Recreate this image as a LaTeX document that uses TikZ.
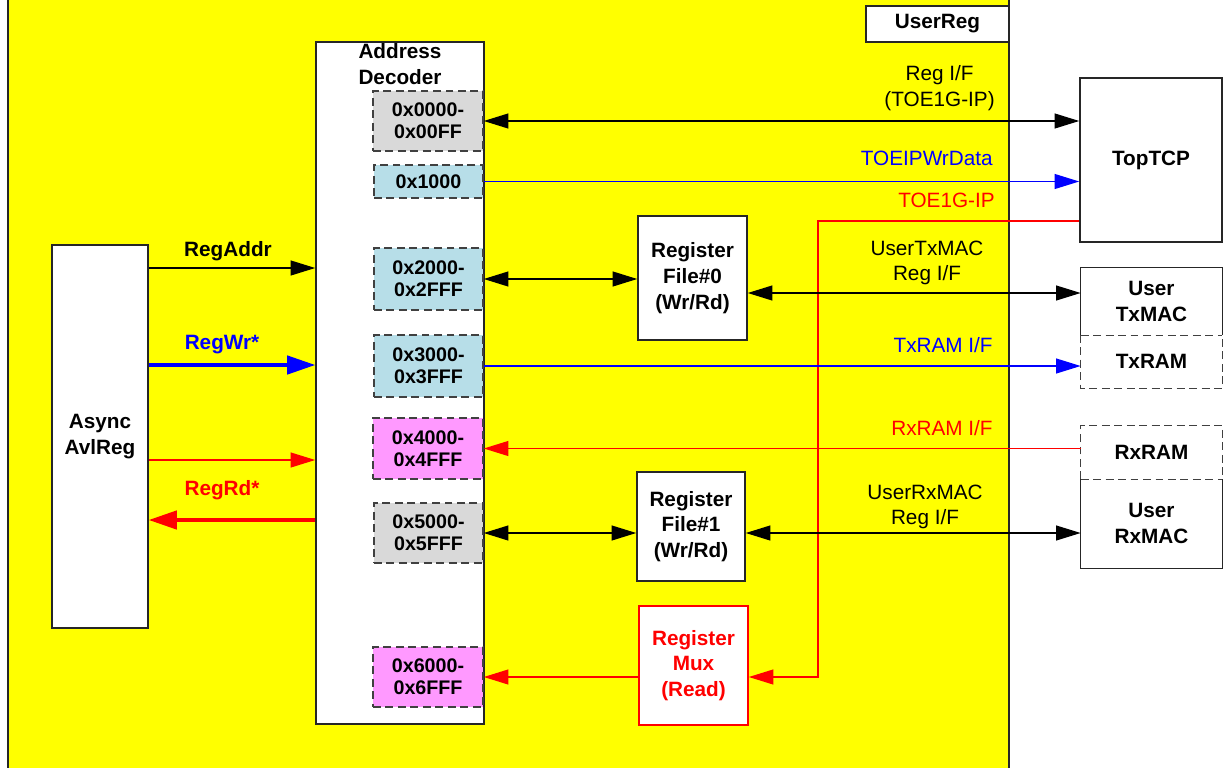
\documentclass[tikz,border=0pt]{standalone}
\usepackage{fontspec}
\setmainfont{Liberation Sans}
\usetikzlibrary{arrows.meta,fit}
\definecolor{ylw}{HTML}{FFFF00}
\definecolor{gry}{HTML}{D9D9D9}
\definecolor{lblue}{HTML}{B7DEE8}
\definecolor{pnk}{HTML}{FF99FF}
\definecolor{bl}{HTML}{0000FF}
\definecolor{rd}{HTML}{FF0000}
\newcommand\lblfont{\fontsize{11.8}{14.6}\selectfont}
\newcommand\adfont{\fontsize{11.2}{12.4}\selectfont}
\tikzset{
  bx/.style={draw=black!85, line width=0.9pt, fill=white, inner sep=0pt},
  bxnd/.style={fill=white, inner sep=0pt},
  ad/.style={draw=black!75, line width=0.9pt, dash pattern=on 4.5pt off 2.6pt, inner sep=0pt},
  btxt/.style={inner sep=0pt, align=center, font=\bfseries\lblfont},
  atxt/.style={inner sep=0pt, align=center, font=\bfseries\adfont},
  lbl/.style={inner sep=0pt, align=center, font=\lblfont},
  bd/.style={draw=black!85, line width=0.9pt},
  dsh/.style={draw=black!75, line width=0.9pt, dash pattern=on 4.5pt off 2.6pt},
  thn/.style={line width=0.75pt},
  thk/.style={line width=1.8pt},
  ar/.style={-{Triangle[length=14pt,width=8.5pt]}},
  ard/.style={{Triangle[length=14pt,width=8.5pt]}-{Triangle[length=14pt,width=8.5pt]}},
  arb/.style={-{Triangle[length=16pt,width=10.5pt]}}
}
\begin{document}
\begin{tikzpicture}[x=0.02cm,y=-0.02cm]
\useasboundingbox (0,0) rectangle (1223,767);
\clip (0,0) rectangle (1223,767);
% outer UserReg area
\node[draw=black!85, line width=0.9pt, fill=ylw, inner sep=0pt, fit={(8,-10) (1009,775)}] (userreg) {};
\node[bx, fit={(866,6) (1009,42)}, label={[btxt]center:UserReg}] (urlabel) {};

% Async AvlReg
\node[bx, fit={(52,245) (148,628)}, label={[btxt]center:{Async\\AvlReg}}] (async) {};

% Address decoder
\node[bx, fit={(316,42) (484,724)}] (dec) {};
\node[btxt] (dectext) at (400,64) {Address\\Decoder};
\node[ad, fill=gry,   fit={(373,91) (483,151)},  label={[atxt]center:{0x0000-\\0x00FF}}] (a0) {};
\node[ad, fill=lblue, fit={(374,165) (483,198)}, label={[atxt]center:{0x1000}}] (a1) {};
\node[ad, fill=lblue, fit={(374,248) (483,310)}, label={[atxt]center:{0x2000-\\0x2FFF}}] (a2) {};
\node[ad, fill=lblue, fit={(374,335) (483,397)}, label={[atxt]center:{0x3000-\\0x3FFF}}] (a3) {};
\node[ad, fill=pnk,   fit={(373,418) (483,479)}, label={[atxt]center:{0x4000-\\0x4FFF}}] (a4) {};
\node[ad, fill=gry,   fit={(374,503) (483,563)}, label={[atxt]center:{0x5000-\\0x5FFF}}] (a5) {};
\node[ad, fill=pnk,   fit={(373,647) (483,707)}, label={[atxt]center:{0x6000-\\0x6FFF}}] (a6) {};

% register files and mux
\node[bx, fit={(638,216) (747,340)}, label={[btxt]center:{Register\\File\#0\\(Wr/Rd)}}] (rf0) {};
\node[bx, fit={(637,472) (745,581)}, label={[btxt]center:{Register\\File\#1\\(Wr/Rd)}}] (rf1) {};
\node[bx, draw=rd, fit={(639,606) (748,725)}, label={[btxt, text=rd]center:{Register\\Mux\\(Read)}}] (mux) {};

% right-hand blocks
\node[bx, fit={(1080,78) (1222,242)}, label={[btxt]center:TopTCP}] (toptcp) {};
\node[bxnd, fit={(1081,268) (1222,335)}, label={[btxt]center:{User\\TxMAC}}] (txmac) {};
\node[bxnd, fit={(1081,335) (1222,388)}, label={[btxt]center:TxRAM}] (txram) {};
\node[bxnd, fit={(1081,426) (1222,479)}, label={[btxt]center:RxRAM}] (rxram) {};
\node[bxnd, fit={(1081,479) (1222,568)}, label={[btxt]center:{User\\RxMAC}}] (rxmac) {};
\draw[bd] (txmac.south west) -- (txmac.north west) -- (txmac.north east) -- (txmac.south east);
\draw[dsh] (txmac.south west) -- (txmac.south east);
\draw[dsh] (txram.north west) -- (txram.south west) -- (txram.south east) -- (txram.north east);
\draw[dsh] (rxram.south west) -- (rxram.north west) -- (rxram.north east) -- (rxram.south east);
\draw[dsh] (rxram.south west) -- (rxram.south east);
\draw[bd] (rxmac.north west) -- (rxmac.south west) -- (rxmac.south east) -- (rxmac.north east);

% Async <-> decoder
\coordinate (yaddr) at (0,268);
\coordinate (ywr) at (0,365);
\coordinate (yrdreq) at (0,460);
\coordinate (yrd) at (0,520);
\draw[thn, ar] (async.east |- yaddr) -- (dec.west |- yaddr);
\node[btxt] (lraddr) at (228,251) {RegAddr};
\draw[thk, bl, arb] (async.east |- ywr) -- (dec.west |- ywr);
\node[btxt, text=bl] (lrwr) at (222,345) {RegWr*};
\draw[thn, rd, ar] (async.east |- yrdreq) -- (dec.west |- yrdreq);
\draw[thk, rd, arb] (dec.west |- yrd) -- (async.east |- yrd);
\node[btxt, text=rd] (lrrd) at (222,490) {RegRd*};

% decoder <-> right side
\draw[thn, ard] (a0.east) -- (a0.east -| toptcp.west);
\node[lbl, anchor=east] (lregif) at (995,88) {Reg I/F\\(TOE1G-IP)};
\draw[thn, bl, ar] (a1.east) -- (a1.east -| toptcp.west);
\node[lbl, anchor=east, text=bl] (lwrdata) at (993,158) {TOEIPWrData};

\coordinate (tturn) at (818,221);
\draw[thn, rd, ar] (toptcp.west |- tturn) -- (tturn) -- (tturn |- a6.east) -- (mux.east |- a6.east);
\node[lbl, anchor=east, text=rd] (ltoe) at (995,200) {TOE1G-IP};

\draw[thn, ard] (a2.east) -- (a2.east -| rf0.west);
\coordinate (ytx) at (0,293);
\draw[thn, ard] (rf0.east |- ytx) -- (txmac.west |- ytx);
\node[lbl] (ltxmac) at (927,263) {UserTxMAC\\Reg I/F};

\draw[thn, bl, ar] (a3.east) -- (a3.east -| txram.west);
\node[lbl, anchor=east, text=bl] (ltxram) at (993,345) {TxRAM I/F};

\draw[thn, rd, ar] (a4.east -| rxram.west) -- (a4.east);
\node[lbl, anchor=east, text=rd] (lrxram) at (993,428) {RxRAM I/F};

\draw[thn, ard] (a5.east) -- (a5.east -| rf1.west);
\draw[thn, ard] (a5.east -| rf1.east) -- (a5.east -| rxmac.west);
\node[lbl] (lrxmac) at (925,507) {UserRxMAC\\Reg I/F};

\draw[thn, rd, ar] (mux.west |- a6.east) -- (a6.east);
\end{tikzpicture}
\end{document}
